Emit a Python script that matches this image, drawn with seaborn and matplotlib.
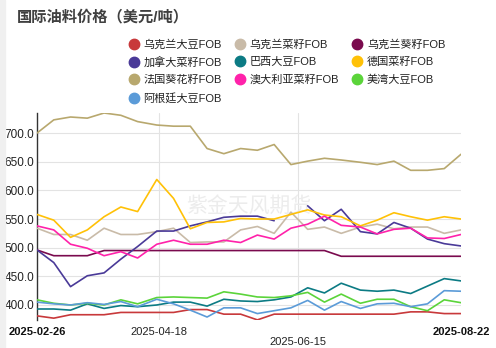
import numpy as np
import pandas as pd
import matplotlib
matplotlib.use("Agg")
import matplotlib.pyplot as plt
from matplotlib.lines import Line2D
from matplotlib.patches import Rectangle
import seaborn as sns

# ---------------- data ----------------
dates = ["2025-02-26", "2025-03-05", "2025-03-12", "2025-03-19", "2025-03-26",
         "2025-04-02", "2025-04-09", "2025-04-17", "2025-04-24", "2025-05-01",
         "2025-05-08", "2025-05-15", "2025-05-22", "2025-05-29", "2025-06-05",
         "2025-06-12", "2025-06-19", "2025-06-26", "2025-07-03", "2025-07-11",
         "2025-07-18", "2025-07-25", "2025-08-01", "2025-08-08", "2025-08-15",
         "2025-08-22"]

ua_soy = [381, 377, 383, 383, 383, 387, 387, 387, 387, 392, 392, 384, 384,
          374, 384, 384, 384, 384, 384, 384, 384, 384, 388, 388, 385, 385]
ua_rape = [534, 523, 523, 513, 534, 523, 523, 528, 534, 509, 510, 510, 531,
           537, 525, 562, 532, 536, 525, 536, 541, 533, 536, 536, 525, 531]
ua_sun = [496, 486, 486, 486, 495, 495, 495, 495, 495, 495, 495, 495, 495,
          495, 495, 495, 495, 495, 485, 485, 485, 485, 485, 485, 485, 485]
ca_rape = [496, 474, 432, 451, 456, 480, 502, 529, 529, 538, 545, 553, 555,
           555, 547, np.nan, 573, 547, 567, 528, 524, 544, 534, 515, 507, 503]
br_soy = [393, 393, 391, 402, 394, 399, 397, 400, 405, 405, 398, 410, 407,
          406, 409, 414, 430, 421, 438, 426, 424, 426, 420, 433, 446, 442]
de_rape = [558, 548, 518, 531, 554, 571, 563, 619, 586, 533, 544, 545, 551,
           550, 550, 558, 566, 557, 554, 538, 548, 561, 554, 548, 554, 550]
fr_sun = [700, 723, 728, 726, 735, 731, 720, 714, 712, 712, 673, 664, 673,
          670, 680, 645, 651, 656, 653, 649, 645, 651, 635, 635, 638, 663]
au_rape = [538, 531, 506, 499, 486, 493, 482, 506, 513, 506, 506, 513, 509,
           522, 515, 534, 541, 555, 539, 536, 524, 532, 534, 517, 516, 523]
us_soy = [409, 403, 400, 403, 400, 409, 402, 413, 414, 413, 412, 423, 419,
          414, 413, 416, 422, 405, 419, 403, 410, 410, 397, 390, 409, 404]
ar_soy = [405, 402, 400, 404, 401, 406, 397, 410, 402, 391, 379, 395, 395,
          385, 390, 395, 408, 391, 406, 394, 402, 403, 397, 402, 425, 424]

names = ["乌克兰大豆FOB", "乌克兰菜籽FOB", "乌克兰葵籽FOB", "加拿大菜籽FOB",
         "巴西大豆FOB", "德国菜籽FOB", "法国葵花籽FOB", "澳大利亚菜籽FOB",
         "美湾大豆FOB", "阿根廷大豆FOB"]
values = [ua_soy, ua_rape, ua_sun, ca_rape, br_soy, de_rape, fr_sun, au_rape,
          us_soy, ar_soy]
colors = ["#c8393b", "#c9bba8", "#7a0a4e", "#4a3a98", "#0c7b84", "#ffc107",
          "#b8a86e", "#ff22aa", "#5bd43a", "#5b9bd8"]

tick_dates = ["2025-02-26", "2025-04-18", "2025-06-15", "2025-08-22"]
y_ticks = [400, 450, 500, 550, 600, 650, 700]
title = "国际油料价格（美元/吨）"
watermark = "紫金天风期货"

# ---------------- style ----------------
sns.set_theme(style="white")
plt.rcParams['font.family'] = ['Liberation Sans', 'Noto Sans CJK SC']
plt.rcParams['axes.unicode_minus'] = False

W, H = 496, 348
fig = plt.figure(figsize=(W / 100, H / 100), dpi=100)
fig.patch.set_facecolor("white")
fig.patches.append(Rectangle((0, 0), 5 / W, 1, transform=fig.transFigure,
                             color="#f0f0f0", zorder=0))

ax = fig.add_axes([37 / W, 1 - 320 / H, (461 - 37) / W, (320 - 113) / H])
ax.set_facecolor("white")

x = pd.to_datetime(dates)
for name, vals, col in zip(names, values, colors):
    s = pd.Series(vals, index=x, dtype=float)
    grp = s.isna().cumsum()
    for _, seg in s[s.notna()].groupby(grp[s.notna()]):
        sns.lineplot(x=seg.index, y=seg.values, ax=ax, color=col,
                     linewidth=1.2, legend=False, zorder=3)

# axes
ax.set_xlim(x[0], x[-1])
ax.set_ylim(373.8, 735)
ax.set_yticks(y_ticks)
ax.set_yticklabels([f"{v:.1f}" for v in y_ticks])
ax.tick_params(axis="y", length=0, pad=2, labelsize=8.5, labelcolor="#222222")
ax.grid(axis="y", color="#e3e3e3", linewidth=0.8)
ax.set_axisbelow(True)

tx = pd.to_datetime(tick_dates)
ax.set_xticks(tx)
labels = [tick_dates[0], tick_dates[1], "\n" + tick_dates[2], tick_dates[3]]
ax.set_xticklabels(labels)
ax.tick_params(axis="x", length=0, pad=5, labelsize=8, labelcolor="#222222")
for i, lab in enumerate(ax.get_xticklabels()):
    if i in (0, len(tick_dates) - 1):
        lab.set_fontweight("bold")
        lab.set_color("#111111")
    lab.set_linespacing(0.95)
for d in tx[1:-1]:
    ax.axvline(d, color="#e3e3e3", linewidth=0.8, zorder=1)

for sp in ["top", "right", "bottom"]:
    ax.spines[sp].set_visible(False)
ax.spines["left"].set_color("#333333")
ax.spines["left"].set_linewidth(1.0)
ax.set_xlabel("")
ax.set_ylabel("")

ax.text(0.50, 0.55, watermark, transform=ax.transAxes, ha="center", va="center",
        fontsize=15, color="#ececec", zorder=2)

# title
fig.text(17 / W, 1 - 17 / H, title, ha="left", va="center", fontsize=11,
         fontweight="bold", color="#404040")

# legend (row-major order arranged into matplotlib's column-major fill)
handles = [Line2D([], [], linestyle="none", marker="o", markersize=7.5,
                  markerfacecolor=c, markeredgecolor=c) for c in colors]
order = [0, 3, 6, 9, 1, 4, 7, 2, 5, 8]
fig.legend([handles[i] for i in order], [names[i] for i in order],
           loc="upper left", bbox_to_anchor=(128 / W, 1 - 39 / H),
           ncol=3, frameon=False, fontsize=8, handlelength=1.0,
           handletextpad=0.4, columnspacing=1.1, labelspacing=0.66,
           borderpad=0, borderaxespad=0, labelcolor="#222222")

fig.savefig("out.png", dpi=100, facecolor="white")
